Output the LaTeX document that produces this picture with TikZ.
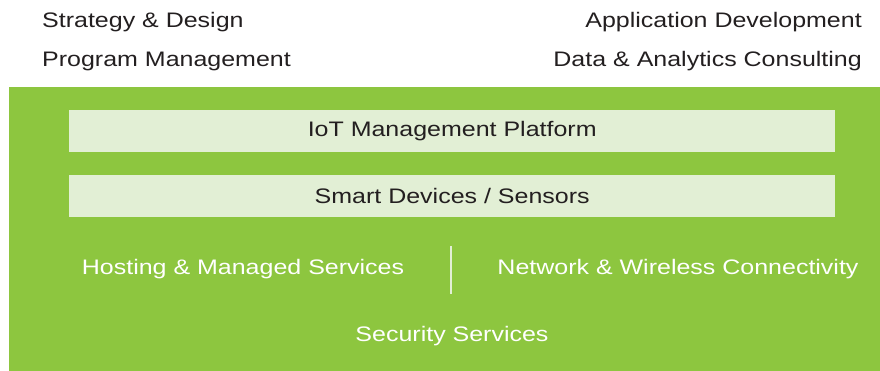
\documentclass[tikz,border=0pt]{standalone}
\usepackage{fontspec}
\setmainfont{Liberation Sans}[FakeStretch=1.19]
\definecolor{leafgreen}{HTML}{8DC63F}
\definecolor{palegreen}{HTML}{E2EFD5}
\definecolor{inkgray}{HTML}{231F20}

\begin{document}
\begin{tikzpicture}[x=1pt, y=-1pt,
    txt/.style={font=\fontsize{21}{24}\selectfont, inner sep=0pt},
    darktxt/.style={txt, text=inkgray},
    whitetxt/.style={txt, text=white, anchor=base},
    layer/.style={darktxt, fill=palegreen, minimum width=766pt, minimum height=42pt, anchor=north west}]
        \useasboundingbox (0, 0) rectangle (880, 371);
        \fill[leafgreen] (9, 87) rectangle (880, 371);  % Background
        % Services above
        \node[darktxt, anchor=base west] (strategy) at (42, 28) {Strategy \& Design};
        \node[darktxt, anchor=base west] (program) at (42, 67) {Program Management};
        \node[darktxt, anchor=base east] (appdev) at (862, 28) {Application Development};
        \node[darktxt, anchor=base east] (analytics) at (862, 67) {Data \& Analytics Consulting};
        % Layers
        \node[layer] (platform) at (69, 110) {IoT Management Platform};
        \node[layer] (devices) at (69, 175) {Smart Devices / Sensors};
        \node[whitetxt] (hosting) at (243, 274) {Hosting \& Managed Services};
        \node[whitetxt] (network) at (678, 274) {Network \& Wireless Connectivity};
        \node[whitetxt] (security) at (452, 341) {Security Services};
        \draw[palegreen, line width=2pt] (451, 246) -- (451, 294);  % Divider
    \end{tikzpicture}
\end{document}
